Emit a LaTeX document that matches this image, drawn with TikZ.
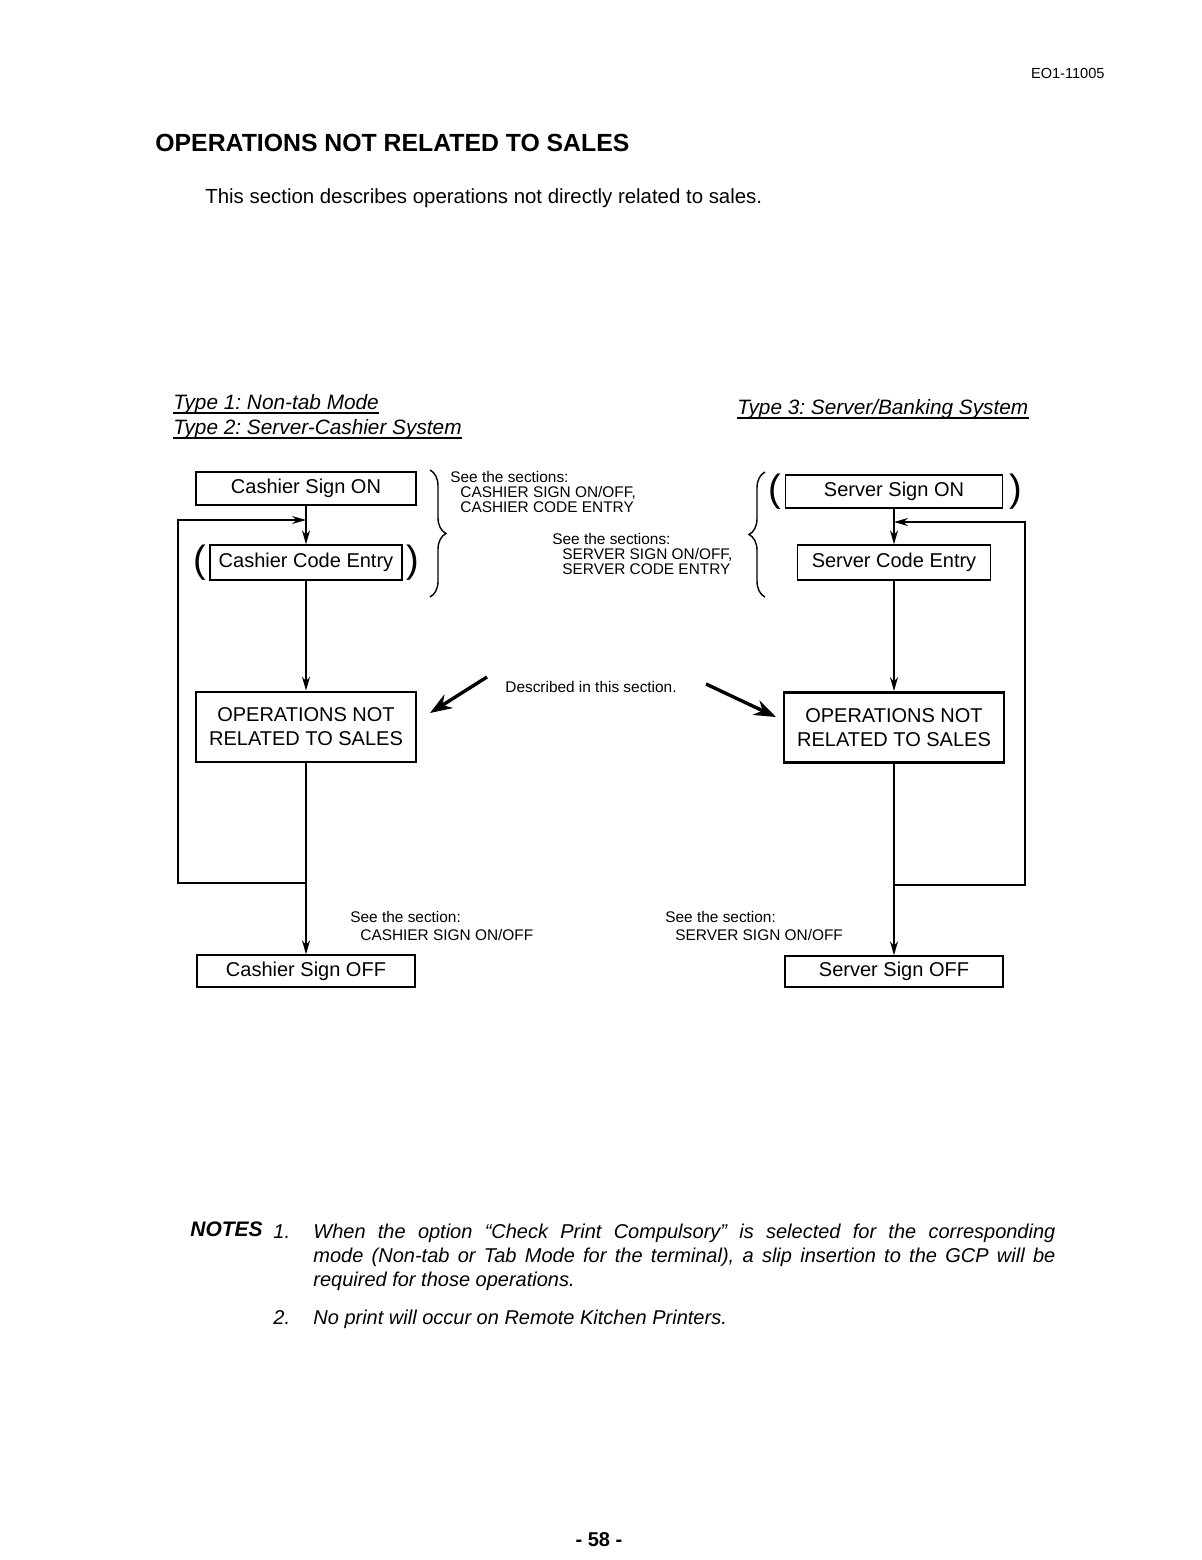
\documentclass[tikz,border=0pt]{standalone}
\usepackage{fontspec}
\setmainfont{Liberation Sans}
\usetikzlibrary{arrows.meta,positioning,calc,decorations.pathreplacing}
\tikzset{
    signbox/.style={
        rectangle,
        draw=black,
        line width=0.7pt,
        inner sep=0pt,
        font=\fontsize{10}{12}\selectfont,
    },
    opsbox/.style={
        rectangle,
        draw=black,
        line width=1.4pt,
        minimum width=110pt,
        minimum height=35pt,
        inner sep=0pt,
        align=center,
        font=\fontsize{10}{12}\selectfont,
    },
    paren/.style={
        inner sep=0pt,
        font=\fontsize{19}{19}\selectfont,
    },
    remark/.style={
        anchor=north west,
        inner sep=0pt,
        align=left,
        font=\fontsize{7.7}{7.5}\selectfont,
    },
    typelabel/.style={
        anchor=base west,
        inner sep=0pt,
        font=\itshape\fontsize{10.4}{12}\selectfont,
    },
    uline/.style={
        draw,
        line width=0.6pt,
    },
    flow/.style={
        draw,
        line width=0.75pt,
        >={Stealth[length=7pt,width=4pt]},
    },
    bigarrow/.style={
        draw,
        line width=1.7pt,
        -{Stealth[length=11pt,width=8pt]},
    },
    brace/.style={
        draw,
        line width=0.7pt,
        decorate,
        decoration={brace,amplitude=8pt},
    },
}

\begin{document}
\frenchspacing
\begin{tikzpicture}[x=0.5pt,y=-0.5pt]
\useasboundingbox (0,0) rectangle (1202,1560);
% page head
\node [anchor=east, inner sep=0pt, font=\fontsize{7.3}{9}\selectfont] (docno) at (1105,73) {EO1-11005};
\node [anchor=west, inner sep=0pt, font=\bfseries\fontsize{12.4}{14}\selectfont] (title) at (155,143) {OPERATIONS NOT RELATED TO SALES};
\node [anchor=west, inner sep=0pt, font=\fontsize{10.2}{12}\selectfont] (intro) at (205,198) {This section describes operations not directly related to sales.};
% system types
\node [typelabel] (type1) at (173,409) {Type 1: Non-tab Mode};
\node [typelabel] (type2) at (173,434) {Type 2: Server-Cashier System};
\node [typelabel] (type3) at (737,414) {Type 3: Server/Banking System};
\foreach \t in {type1,type2,type3}
    \draw [uline] ($(\t.base west)+(0,4)$) -- ($(\t.base east)+(0,4)$);
% cashier side
\node [signbox, minimum width=110pt, minimum height=16.5pt] (CON) at (306,488.5) {Cashier Sign ON};
\node [signbox, minimum width=96pt, minimum height=17.5pt] (CCE) at (306,562.5) {Cashier Code Entry};
\node [paren, left=1.5pt of CCE] (CCEl) {(};
\node [paren, right=1.5pt of CCE] (CCEr) {)};
\node [opsbox] (LOPS) at (306,727) {OPERATIONS NOT\\RELATED TO SALES};
\node [signbox, minimum width=109pt, minimum height=16pt] (COFF) at (306,971) {Cashier Sign OFF};
\coordinate (LJ) at (306,883);
\coordinate (LL) at (178,520);
\coordinate (LA) at (306,520);
\draw [flow,->] (CON) -- (CCE);
\draw [flow,->] (CCE) -- (LOPS);
\draw [flow,->] (LOPS) -- (COFF);
\draw [flow,->] (LJ) -| (LL) -- (LA);
% server side
\node [signbox, minimum width=108.5pt, minimum height=16.5pt] (SON) at (894,491.5) {Server Sign ON};
\node [paren, left=1.5pt of SON] (SONl) {(};
\node [paren, right=3pt of SON] (SONr) {)};
\node [signbox, minimum width=96.5pt, minimum height=17.5pt] (SCE) at (894,562.5) {Server Code Entry};
\node [opsbox] (ROPS) at (894,727.5) {OPERATIONS NOT\\RELATED TO SALES};
\node [signbox, minimum width=109pt, minimum height=15.5pt] (SOFF) at (894,971.5) {Server Sign OFF};
\coordinate (RJ) at (894,885);
\coordinate (RL) at (1025,522);
\coordinate (RA) at (894,522);
\draw [flow,->] (SON) -- (SCE);
\draw [flow,->] (SCE) -- (ROPS);
\draw [flow,->] (ROPS) -- (SOFF);
\draw [flow,->] (RJ) -| (RL) -- (RA);
% references to other sections
\draw [brace] (430,470) -- (430,597);
\draw [brace] (765,597) -- (765,472);
\node [remark] (seeC) at (450,471) {See the sections:\\\hspace*{5pt}CASHIER SIGN ON/OFF,\\\hspace*{5pt}CASHIER CODE ENTRY};
\node [remark] (seeS) at (552,533) {See the sections:\\\hspace*{5pt}SERVER SIGN ON/OFF,\\\hspace*{5pt}SERVER CODE ENTRY};
\node [remark, font=\fontsize{7.7}{9}\selectfont] (offC) at (350,911) {See the section:\\\hspace*{5pt}CASHIER SIGN ON/OFF};
\node [remark, font=\fontsize{7.7}{9}\selectfont] (offS) at (665,911) {See the section:\\\hspace*{5pt}SERVER SIGN ON/OFF};
\node [remark] (desc) at (505,681) {Described in this section.};
\coordinate (dl1) at (487,677);
\coordinate (dl2) at (430,713);
\coordinate (dr1) at (706,684);
\coordinate (dr2) at (776,717);
\draw [bigarrow] (dl1) -- (dl2);
\draw [bigarrow] (dr1) -- (dr2);
% notes
\node [anchor=base west, inner sep=0pt, font=\bfseries\itshape\fontsize{10.5}{12}\selectfont] (notes) at (190,1236) {NOTES};
\node [anchor=base west, inner sep=0pt, font=\itshape\fontsize{10}{12}\selectfont] (n1) at (273,1238) {1.};
\node [anchor=north west, inner sep=0pt, text width=371pt, align=justify, font=\itshape\fontsize{10}{12}\selectfont] (note1) at (313,1224) {When the option “Check Print Compulsory” is selected for the corresponding\linebreak mode (Non-tab or Tab Mode for the terminal), a slip insertion to the GCP will be\linebreak required for those operations.};
\node [anchor=base west, inner sep=0pt, font=\itshape\fontsize{10}{12}\selectfont] (n2) at (273,1324) {2.};
\node [anchor=base west, inner sep=0pt, font=\itshape\fontsize{10}{12}\selectfont] (note2) at (313,1324) {No print will occur on Remote Kitchen Printers.};
% page number
\node [anchor=base, font=\bfseries\fontsize{10}{12}\selectfont] (page) at (599,1546) {- 58 -};
\end{tikzpicture}
\end{document}
